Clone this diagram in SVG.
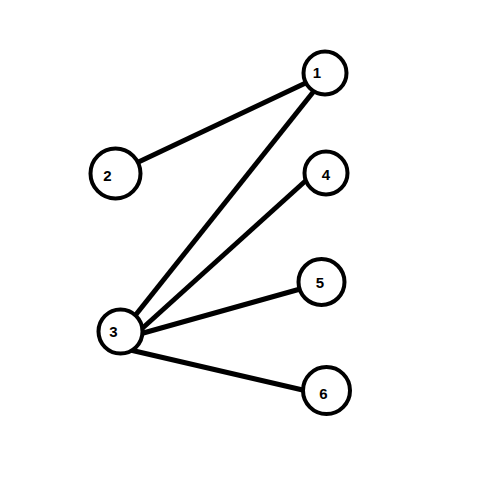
<svg xmlns="http://www.w3.org/2000/svg" width="500" height="500" viewBox="0 0 500 500">
<style>
.edge{stroke:#000;stroke-width:5;stroke-linecap:butt;fill:none}
.node circle{fill:#fff;stroke:#000;stroke-width:4}
.node text{font-family:"Liberation Sans",Arial,sans-serif;font-weight:bold;font-size:15px;fill:#000;text-anchor:middle}
</style>
<rect width="500" height="500" fill="#fff"/>
<g id="connectors">
<line class="edge" x1="130" y1="166" x2="312" y2="80"/>
<line class="edge" x1="130" y1="322" x2="318" y2="86"/>
<line class="edge" x1="136" y1="334" x2="312" y2="175"/>
<line class="edge" x1="138" y1="334.5" x2="302" y2="288.5"/>
<line class="edge" x1="126" y1="349" x2="307" y2="391"/>
</g>
<g id="node1" class="node"><circle cx="325" cy="73" r="21.5"/><text x="317" y="78">1</text></g>
<g id="node2" class="node"><circle cx="115.5" cy="173.5" r="25"/><text x="107.5" y="181">2</text></g>
<g id="node3" class="node"><circle cx="120.5" cy="331.5" r="22"/><text x="113.5" y="336.5">3</text></g>
<g id="node4" class="node"><circle cx="326" cy="173" r="21.5"/><text x="326" y="180">4</text></g>
<g id="node5" class="node"><circle cx="321.5" cy="282" r="23"/><text x="320" y="288">5</text></g>
<g id="node6" class="node"><circle cx="326.5" cy="390.5" r="23.5"/><text x="323.5" y="398.5">6</text></g>
</svg>
